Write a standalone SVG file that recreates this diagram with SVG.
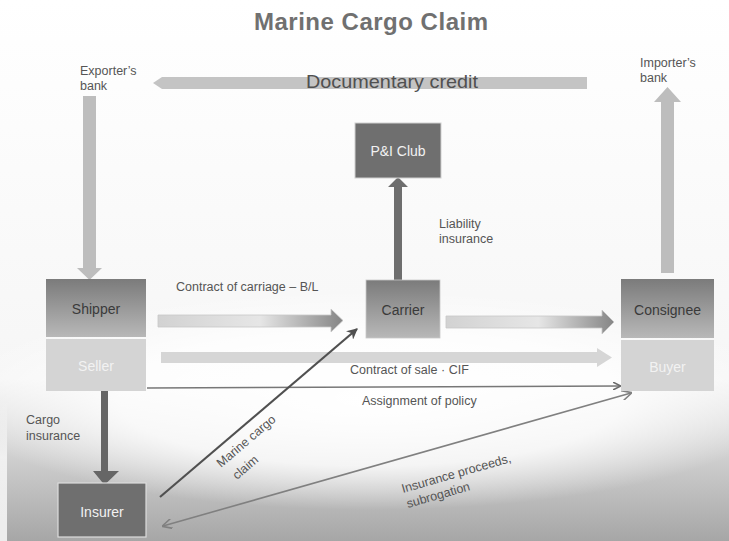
<svg xmlns="http://www.w3.org/2000/svg" width="729" height="541" viewBox="0 0 729 541">
  <defs>
    <linearGradient id="bg" x1="0" y1="0" x2="0" y2="1">
      <stop offset="0" stop-color="#ffffff"/>
      <stop offset="0.7" stop-color="#f6f6f6"/>
      <stop offset="0.82" stop-color="#d6d6d6"/>
      <stop offset="1" stop-color="#a6a6a6"/>
    </linearGradient>
    <radialGradient id="glow" cx="0.5" cy="0.5" r="0.5">
      <stop offset="0" stop-color="#ffffff" stop-opacity="1"/>
      <stop offset="0.6" stop-color="#ffffff" stop-opacity="0.8"/>
      <stop offset="1" stop-color="#ffffff" stop-opacity="0"/>
    </radialGradient>
    <linearGradient id="strip" x1="0" y1="0" x2="0" y2="1">
      <stop offset="0" stop-color="#ffffff" stop-opacity="0"/>
      <stop offset="0.4" stop-color="#ffffff" stop-opacity="0.7"/>
      <stop offset="1" stop-color="#ffffff" stop-opacity="0.8"/>
    </linearGradient>
    <linearGradient id="topbox" x1="0" y1="0" x2="0" y2="1">
      <stop offset="0" stop-color="#7b7b7b"/>
      <stop offset="1" stop-color="#b8b8b8"/>
    </linearGradient>
    <linearGradient id="flow" x1="0" y1="0" x2="1" y2="0">
      <stop offset="0" stop-color="#d2d2d2"/>
      <stop offset="0.55" stop-color="#e6e6e6"/>
      <stop offset="1" stop-color="#858585"/>
    </linearGradient>
    <marker id="thin" viewBox="0 0 10 10" refX="9" refY="5" markerWidth="8" markerHeight="8" markerUnits="userSpaceOnUse" orient="auto-start-reverse">
      <path d="M0,0 L10,5 L0,10" fill="none" stroke="#6a6a6a" stroke-width="2"/>
    </marker>
    <marker id="thinL" viewBox="0 0 10 10" refX="9" refY="5" markerWidth="10" markerHeight="10" markerUnits="userSpaceOnUse" orient="auto-start-reverse">
      <path d="M0,0 L10,5 L0,10" fill="none" stroke="#808080" stroke-width="1.6"/>
    </marker>
    <marker id="dark" viewBox="0 0 10 10" refX="9" refY="5" markerWidth="11" markerHeight="11" markerUnits="userSpaceOnUse" orient="auto">
      <path d="M0,0 L10,5 L0,10 L3,5 Z" fill="#505050"/>
    </marker>
  </defs>
  <style>
    text { font-family: "Liberation Sans", Arial, sans-serif; }
    .lbl { font-size: 12.5px; fill: #555555; }
    .node { font-size: 14px; text-anchor: middle; }
    .dk { fill: #3a3a3a; }
    .lt { fill: #f2f2f2; }
  </style>

  <!-- background -->
  <rect x="0" y="0" width="729" height="541" fill="url(#bg)"/>
  <ellipse cx="370" cy="400" rx="420" ry="110" fill="url(#glow)"/>
  <rect x="0" y="400" width="7" height="141" fill="url(#strip)"/>

  <text x="371" y="30" text-anchor="middle" font-size="24" font-weight="bold" fill="#707070" textLength="234">Marine Cargo Claim</text>

  <!-- connectors -->
  <g id="connectors">
    <!-- Documentary credit -->
    <path d="M587,77 L587,89 L162,89 L153,83 L162,77 Z" fill="#c4c4c4"/>
    <!-- exporter's bank down -->
    <path d="M83,96 L96,96 L96,268 L102,268 L89.5,280 L77,268 L83,268 Z" fill="#bdbdbd"/>
    <!-- importer's bank up -->
    <path d="M661,273 L674,273 L674,102 L681,102 L667.5,87 L654,102 L661,102 Z" fill="#bdbdbd"/>
    <!-- carrier to P&I -->
    <path d="M394,280 L402,280 L402,187 L408,187 L398,177 L388,187 L394,187 Z" fill="#6e6e6e"/>
    <!-- contract of carriage -->
    <path d="M158,315 L331,315 L331,309 L343,320.5 L331,332 L331,327 L158,327 Z" fill="url(#flow)" stroke="#c8c8c8" stroke-width="0.8"/>
    <!-- carrier to consignee -->
    <path d="M446,316 L602,316 L602,310 L614,322 L602,334 L602,328 L446,328 Z" fill="url(#flow)" stroke="#c8c8c8" stroke-width="0.8"/>
    <!-- contract of sale -->
    <path d="M161,352 L597,352 L597,348 L612,357.5 L597,367 L597,363 L161,363 Z" fill="#d6d6d6"/>
    <!-- assignment of policy -->
    <line x1="147" y1="388" x2="620" y2="386" stroke="#777777" stroke-width="1.6" marker-end="url(#thin)"/>
    <!-- shipper to insurer -->
    <path d="M101,391 L108,391 L108,471 L119,471 L104.5,485 L93,471 L101,471 Z" fill="#666666"/>
    <!-- marine cargo claim -->
    <line x1="160" y1="497" x2="357" y2="329" stroke="#505050" stroke-width="2.2" marker-end="url(#dark)"/>
    <!-- insurance proceeds -->
    <line x1="163" y1="526" x2="631" y2="393" stroke="#808080" stroke-width="1.6" marker-start="url(#thinL)" marker-end="url(#thinL)"/>
  </g>

  <!-- labels -->
  <text x="306" y="88" font-size="19" fill="#505050" textLength="172" lengthAdjust="spacingAndGlyphs">Documentary credit</text>
  <text class="lbl" x="80" y="75">Exporter’s</text>
  <text class="lbl" x="80" y="90">bank</text>
  <text class="lbl" x="640" y="67">Importer’s</text>
  <text class="lbl" x="640" y="82">bank</text>
  <text class="lbl" x="439" y="228">Liability</text>
  <text class="lbl" x="439" y="243">insurance</text>
  <text class="lbl" x="176" y="291">Contract of carriage – B/L</text>
  <text class="lbl" x="350" y="374">Contract of sale · CIF</text>
  <text class="lbl" x="362" y="405">Assignment of policy</text>
  <text class="lbl" x="26" y="424">Cargo</text>
  <text class="lbl" x="26" y="440">insurance</text>
  <text class="lbl" x="221" y="468" transform="rotate(-40.5 221 468)">Marine cargo</text>
  <text class="lbl" x="237" y="480" transform="rotate(-40.5 237 480)">claim</text>
  <text class="lbl" x="403" y="493" transform="rotate(-16 403 493)">Insurance proceeds,</text>
  <text class="lbl" x="408" y="508" transform="rotate(-16 408 508)">subrogation</text>

  <!-- nodes -->
  <g id="pi-club">
    <rect x="355" y="123" width="86" height="55" fill="#6f6f6f" stroke="#d0d0d0" stroke-width="1"/>
    <text class="node lt" x="398" y="156">P&amp;I Club</text>
  </g>
  <g id="shipper">
    <rect x="46" y="279" width="100" height="58" fill="url(#topbox)"/>
    <text class="node dk" x="96" y="314">Shipper</text>
  </g>
  <g id="seller">
    <rect x="46" y="339" width="100" height="52" fill="#d4d4d4"/>
    <text class="node lt" x="96" y="371">Seller</text>
  </g>
  <g id="carrier">
    <rect x="366" y="280" width="74" height="58" fill="url(#topbox)" stroke="#c8c8c8" stroke-width="0.8"/>
    <text class="node dk" x="403" y="315">Carrier</text>
  </g>
  <g id="consignee">
    <rect x="621" y="279" width="93" height="59" fill="url(#topbox)"/>
    <text class="node dk" x="667.5" y="315">Consignee</text>
  </g>
  <g id="buyer">
    <rect x="621" y="340" width="93" height="51" fill="#d4d4d4"/>
    <text class="node lt" x="667.5" y="372">Buyer</text>
  </g>
  <g id="insurer">
    <rect x="58" y="483" width="88" height="54" fill="#6f6f6f" stroke="#dcdcdc" stroke-width="1.2"/>
    <text class="node lt" x="102" y="517">Insurer</text>
  </g>
</svg>
